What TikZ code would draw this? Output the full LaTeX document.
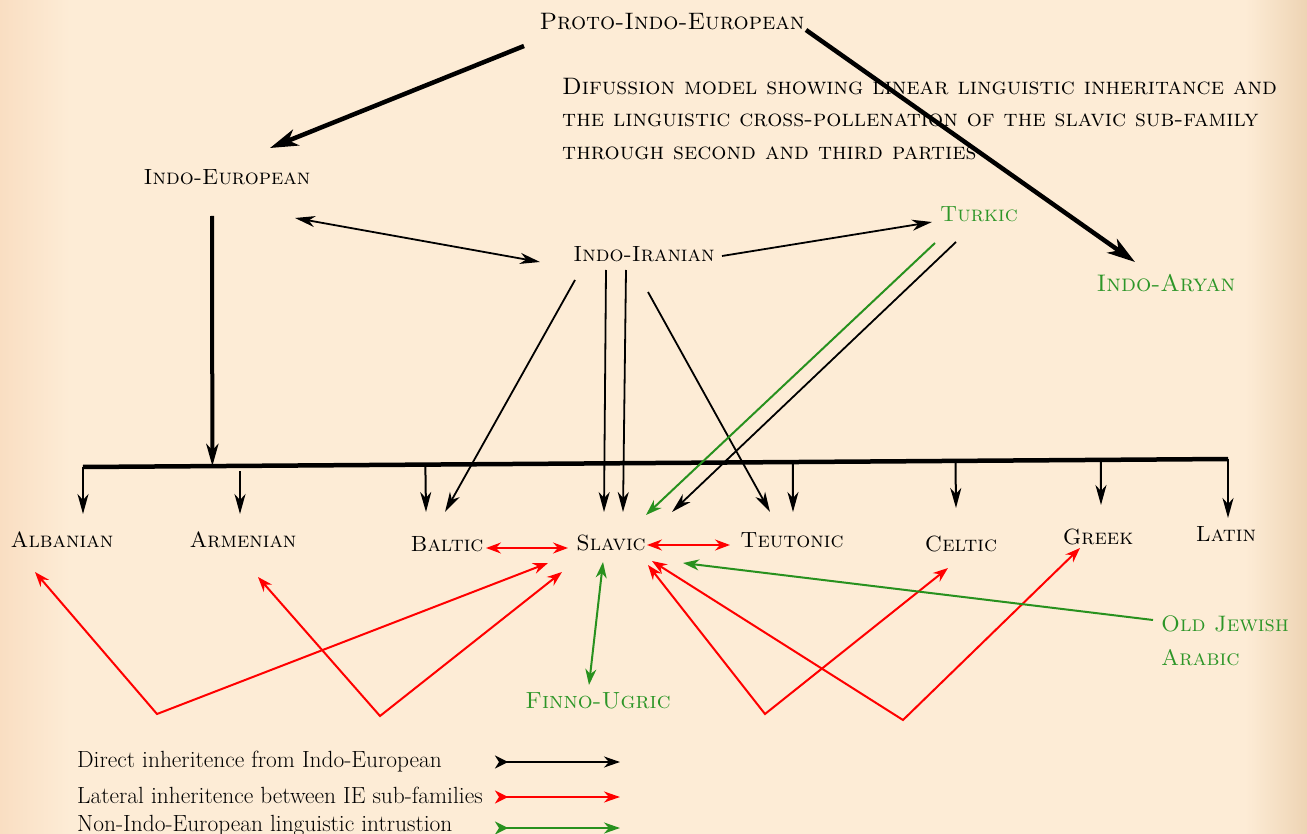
\documentclass[tikz,border=0pt]{standalone}
\usetikzlibrary{arrows.meta,calc}
\definecolor{bgpeach}{RGB}{253,236,214}
\definecolor{bgleft}{RGB}{249,222,194}
\definecolor{bgright}{RGB}{238,212,180}
\definecolor{lgreen}{RGB}{40,145,30}
\definecolor{tgreen}{RGB}{45,150,40}
\tikzset{
  x=1pt, y=-1pt,
  lab/.style={inner sep=0pt, font=\fontsize{22}{26}\selectfont\scshape},
  glab/.style={lab, text=tgreen},
  thickarr/.style={line width=4.5pt, -{Stealth[length=28pt,width=17pt,inset=8pt]}},
  blkarr/.style={line width=2pt, -{Stealth[length=20pt,width=11pt,inset=6pt]}},
  thinarr/.style={line width=1.8pt, -{Stealth[length=20pt,width=11pt,inset=6pt]}},
  redarr/.style={line width=2pt, red, {Stealth[length=15pt,width=11pt,inset=5pt]}-{Stealth[length=15pt,width=11pt,inset=5pt]}},
  grnarr/.style={line width=2pt, lgreen, -{Stealth[length=16pt,width=11pt,inset=5pt]}},
  grndbl/.style={line width=2pt, lgreen, {Stealth[length=16pt,width=11pt,inset=5pt]}-{Stealth[length=16pt,width=11pt,inset=5pt]}},
  legtxt/.style={anchor=west, inner sep=0pt, font=\fontsize{23.4}{26}\selectfont},
  legarr/.style={line width=2pt, {Stealth[reversed,length=13pt,width=13pt,inset=4pt]}-{Stealth[length=16pt,width=11pt,inset=5pt]}}
}
\begin{document}
\begin{tikzpicture}
\useasboundingbox (0,0) rectangle (1307,834);
\fill[bgpeach] (0,0) rectangle (1307,834);
\shade[left color=bgleft, right color=bgpeach] (0,0) rectangle (70,834);
\shade[left color=bgpeach, right color=bgright] (1245,0) rectangle (1307,834);

% nodes
\node[lab, font=\fontsize{23.8}{28}\selectfont\scshape] (pie) at (672,22) {Proto-Indo-European};
\node[anchor=west, align=left, inner sep=0pt, font=\fontsize{23.8}{32.5}\selectfont\scshape] (desc) at (562,119)
  {Difussion model showing linear linguistic inheritance and\\
   the linguistic cross-pollenation of the slavic sub-family\\
   through second and third parties};
\node[lab] (ie) at (227,177) {Indo-European};
\node[lab] (ii) at (644,254) {Indo-Iranian};
\node[glab] (turkic) at (979,214) {Turkic};
\node[glab, font=\fontsize{24}{28}\selectfont\scshape] (aryan) at (1166,283) {Indo-Aryan};
\node[lab] (alb) at (62,540) {Albanian};
\node[lab] (arm) at (243,540) {Armenian};
\node[lab] (bal) at (447,544) {Baltic};
\node[lab] (sla) at (611,543) {Slavic};
\node[lab] (teu) at (792,540) {Teutonic};
\node[lab] (cel) at (961,544) {Celtic};
\node[lab] (gre) at (1098,537) {Greek};
\node[lab] (lat) at (1226,534) {Latin};
\node[glab, font=\fontsize{23.4}{28}\selectfont\scshape] (fin) at (598,701) {Finno-Ugric};
\node[glab, anchor=west, align=left, font=\fontsize{22.4}{34}\selectfont\scshape] (oja) at (1161,641) {Old Jewish\\Arabic};

\node[legtxt] (leg1) at (77,762) {Direct inheritence from Indo-European};
\node[legtxt] (leg2) at (77,795) {Lateral inheritence between IE sub-families};
\node[legtxt] (leg3) at (77,826) {Non-Indo-European linguistic intrustion};

% bar
\coordinate (bl) at (83,467);
\coordinate (br) at (1228,459);
\draw[line width=4.5pt] (bl) -- (br);

% thick arrows
\draw[thickarr] ($(pie)+(-148,24)$) -- ($(ie)+(43,-29)$);
\draw[thickarr] ($(pie)+(134,8)$) -- ($(aryan)+(-31,-21)$);
\draw[line width=4pt, -{Stealth[length=22pt,width=12pt,inset=6pt]}] ($(ie)+(-15,39)$) -- ($(bl)!0.113!(br)$);

% drops from bar
\draw[blkarr] (bl) -- ($(alb)+(21,-26)$);
\draw[blkarr] ($(arm)+(-3,-69)$) -- ($(arm)+(-3,-26)$);
\draw[blkarr] ($(bl)!0.299!(br)$) -- ($(bal)+(-21,-32)$);
\draw[blkarr] ($(bl)!0.620!(br)$) -- ($(teu)+(1,-28)$);
\draw[blkarr] ($(bl)!0.762!(br)$) -- ($(cel)+(-5,-36)$);
\draw[blkarr] ($(bl)!0.889!(br)$) -- ($(gre)+(3,-32)$);
\draw[blkarr] (br) -- ($(lat)+(2,-16)$);

% Indo-Iranian links
\draw[thinarr, {Stealth[length=20pt,width=11pt,inset=6pt]}-{Stealth[length=20pt,width=11pt,inset=6pt]}] ($(ie)+(68,41)$) -- ($(ii)+(-104,8)$);
\draw[thinarr] ($(ii)+(78,2)$) -- ($(turkic)+(-47,8)$);
\draw[thinarr] ($(ii)+(-69,26)$) -- ($(bal)+(-2,-32)$);
\draw[thinarr] ($(ii)+(-38,16)$) -- ($(sla)+(-7,-31)$);
\draw[thinarr] ($(ii)+(-18,16)$) -- ($(sla)+(12,-31)$);
\draw[thinarr] ($(ii)+(4,38)$) -- ($(teu)+(-22,-28)$);
\draw[thinarr] ($(turkic)+(-23,28)$) -- ($(sla)+(61,-31)$);
\draw[grnarr] ($(turkic)+(-44,29)$) -- ($(sla)+(35,-28)$);

% lateral (red)
\coordinate (v1) at (157,714);
\coordinate (v2) at (380,716);
\coordinate (v3) at (765,714);
\coordinate (v4) at (903,720);
\draw[redarr] ($(bal)+(39,4)$) -- ($(sla)+(-43,5)$);
\draw[redarr] ($(sla)+(36,2)$) -- ($(teu)+(-62,5)$);
\draw[redarr] ($(alb)+(-27,32)$) -- (v1) -- ($(sla)+(-63,20)$);
\draw[redarr] ($(arm)+(15,37)$) -- (v2) -- ($(sla)+(-49,29)$);
\draw[redarr] ($(sla)+(37,22)$) -- (v3) -- ($(cel)+(-13,24)$);
\draw[redarr] ($(sla)+(41,18)$) -- (v4) -- ($(gre)+(-18,11)$);

% green
\draw[grndbl] ($(sla)+(-8,19)$) -- ($(fin)+(-9,-16)$);
\draw[grnarr] ($(oja.west)+(-8,-21)$) -- ($(sla)+(72,20)$);

% legend arrows
\draw[legarr] ($(leg1.west)+(418,0)$) -- ($(leg1.west)+(543,0)$);
\draw[legarr, red] ($(leg2.west)+(418,2)$) -- ($(leg2.west)+(543,2)$);
\draw[legarr, lgreen] ($(leg3.west)+(418,2)$) -- ($(leg3.west)+(543,2)$);
\end{tikzpicture}
\end{document}
